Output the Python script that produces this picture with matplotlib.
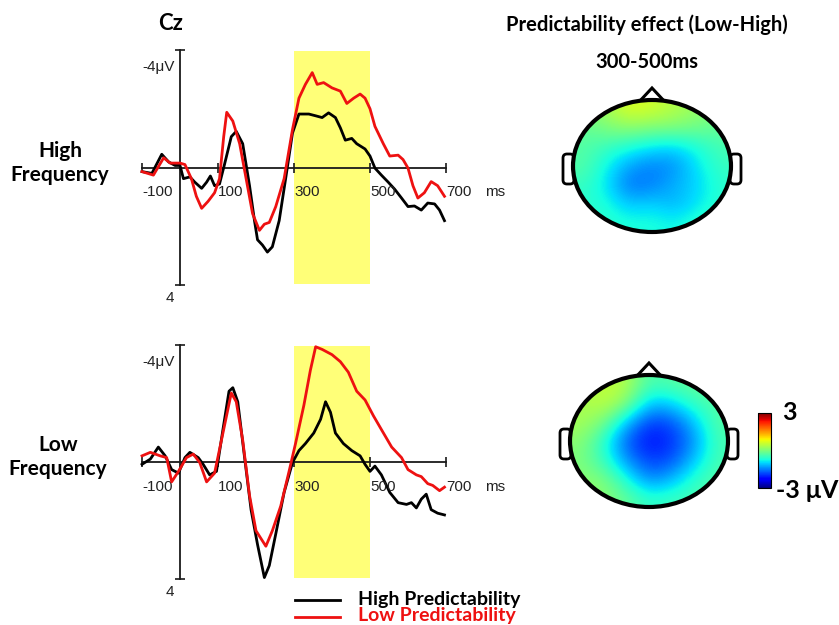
import numpy as np
import matplotlib
matplotlib.use("Agg")
import matplotlib.pyplot as plt
from matplotlib.patches import Ellipse, Polygon, FancyBboxPatch
from matplotlib import colors, cm

W, H = 839, 625

# ---------------- ERP waveforms at Cz (ms, microvolts) ----------------
hf_high_t = [-100, -74, -48, -30, -13, 0, 9, 26, 39, 57, 70, 80, 91, 104, 117, 135, 148, 165, 183, 196,
             204, 217, 230, 243, 261, 278, 296, 313, 339, 357, 374, 391, 409, 422, 435, 452, 465, 487,
             500, 513, 530, 548, 565, 583, 600, 617, 635, 652, 670, 683, 696]
hf_high_v = [0.14, 0.2, -0.45, -0.19, -0.07, -0.07, 0.38, 0.32, 0.5, 0.71, 0.5, 0.29, 0.62, 0.56, -0.1, -1.05,
             -1.23, -0.81, 0.62, 1.81, 2.46, 2.64, 2.88, 2.7, 1.81, 0.38, -1.17, -1.82, -1.82, -1.76, -1.7,
             -1.86, -1.7, -1.35, -0.93, -0.99, -0.81, -0.63, -0.39, 0.02, 0.26, 0.5, 0.74, 1.04, 1.33, 1.31,
             1.45, 1.21, 1.24, 1.45, 1.81]

hf_low_t = [-100, -70, -43, -26, 0, 13, 30, 43, 57, 74, 91, 104, 115, 123, 139, 157, 174, 191, 209, 222,
            235, 252, 274, 296, 313, 330, 348, 361, 378, 400, 422, 439, 457, 474, 487, 500, 513, 535,
            552, 574, 587, 600, 613, 626, 643, 661, 678, 696]
hf_low_v = [0.14, 0.26, -0.33, -0.15, -0.15, -0.1, 0.38, 0.98, 1.39, 1.15, 0.86, 0.38, -1.05, -1.88, -1.58,
            -0.81, 0.38, 1.57, 2.14, 1.93, 1.87, 1.33, 0.38, -1.29, -2.36, -2.83, -3.23, -2.83, -2.89, -2.71,
            -2.6, -2.18, -2.36, -2.5, -2.36, -2.0, -1.4, -0.81, -0.39, -0.42, -0.27, 0.02, 0.62, 1.04, 0.86,
            0.48, 0.62, 0.98]

lf_high_t = [-100, -78, -57, -39, -22, -4, 13, 26, 48, 61, 78, 96, 113, 129, 139, 152, 170, 187, 204, 222,
             235, 252, 274, 296, 313, 330, 352, 370, 383, 396, 409, 430, 452, 474, 487, 500, 513, 530,
             552, 574, 596, 609, 622, 635, 648, 661, 678, 696]
lf_high_v = [0.08, -0.1, -0.51, -0.21, 0.26, 0.38, -0.15, -0.33, -0.15, 0.08, 0.44, 0.32, -1.11, -2.42,
             -2.54, -2.06, -0.15, 1.63, 2.82, 3.95, 3.54, 2.46, 1.04, 0.02, -0.39, -0.63, -0.99, -1.46,
             -2.06, -1.7, -0.99, -0.63, -0.39, -0.21, 0.08, 0.32, 0.14, 0.44, 1.04, 1.39, 1.45, 1.39, 1.57,
             1.27, 1.1, 1.63, 1.75, 1.81]

lf_low_t = [-100, -78, -52, -35, -22, -4, 17, 35, 52, 70, 91, 113, 135, 148, 165, 183, 200, 226, 243, 265,
            287, 304, 326, 343, 357, 374, 400, 422, 443, 465, 487, 509, 530, 557, 583, 600, 622, 635,
            652, 665, 683, 696]
lf_low_v = [-0.21, -0.33, -0.21, -0.15, 0.68, 0.32, -0.15, -0.27, 0.02, 0.68, 0.38, -0.99, -2.36, -2.06,
            -0.75, 1.15, 2.35, 2.88, 2.35, 1.51, 0.32, -0.63, -1.94, -3.13, -3.94, -3.85, -3.67, -3.43,
            -3.07, -2.42, -2.12, -1.58, -1.11, -0.51, -0.15, 0.26, 0.44, 0.5, 0.74, 0.8, 0.98, 0.86]

x_ticks = [-100, 100, 300, 500, 700]
window = (300, 500)

# ---------------- topography, Low minus High, 300-500 ms (microvolts) ----------------
topo_hf = np.array([
    [0.0, 0.3, 0.7, 0.6, 0.4, 0.2, 0.0],
    [-0.2, 0.0, 0.1, 0.0, 0.0, -0.1, -0.2],
    [-0.3, -0.5, -0.7, -0.9, -1.0, -0.7, -0.4],
    [-0.3, -0.8, -1.3, -1.5, -1.4, -0.9, -0.5],
    [-0.5, -0.9, -1.6, -1.5, -1.2, -1.0, -0.6],
    [-0.6, -0.7, -1.1, -1.0, -1.2, -0.9, -0.6],
    [-0.5, -0.6, -0.7, -0.7, -0.8, -0.6, -0.5],
])
topo_lf = np.array([
    [0.3, 0.5, 0.4, -0.4, -0.3, -0.2, -0.2],
    [0.3, 0.5, 0.1, -1.1, -1.0, -0.5, -0.3],
    [0.3, 0.0, -1.1, -1.9, -1.8, -1.1, -0.3],
    [0.1, -0.6, -1.7, -2.2, -2.0, -1.4, -0.4],
    [0.0, -0.5, -1.4, -1.9, -1.8, -1.1, -0.4],
    [0.1, 0.0, -0.7, -1.5, -1.2, -0.6, -0.3],
    [0.2, 0.1, -0.2, -0.6, -0.5, -0.4, -0.3],
])
vmin, vmax = -3, 3

plt.rcParams['font.family'] = ['Liberation Sans', 'DejaVu Sans']
BOLD = ['Lato', 'Open Sans', 'DejaVu Sans']

fig = plt.figure(figsize=(W / 100, H / 100), dpi=100)


def px_axes(x0, y0, x1, y1):
    return fig.add_axes([x0 / W, 1 - y1 / H, (x1 - x0) / W, (y1 - y0) / H])


def erp_panel(ax, t_hi, v_hi, t_lo, v_lo):
    ax.set_xlim(-100, 700)
    ax.set_ylim(4, -4)
    ax.set_facecolor('none')
    ax.axvspan(window[0], window[1], ymin=0.005, ymax=0.995, color='#ffff78', zorder=0, lw=0)
    for s in ['top', 'right']:
        ax.spines[s].set_visible(False)
    ax.spines['left'].set_position(('data', 0))
    ax.spines['bottom'].set_position(('data', 0))
    for s in ['left', 'bottom']:
        ax.spines[s].set_linewidth(1.3)
        ax.spines[s].set_color('#1a1a1a')
    ax.set_xticks(x_ticks)
    ax.set_yticks([-4, 4])
    ax.set_xticklabels([])
    ax.set_yticklabels([])
    ax.tick_params(direction='inout', length=7, width=1.2, color='#1a1a1a')
    ax.plot(t_hi, v_hi, color='black', lw=2.0, zorder=3, clip_on=False, solid_joinstyle='round')
    ax.plot(t_lo, v_lo, color='#ee1111', lw=2.0, zorder=4, clip_on=False, solid_joinstyle='round')
    for t in x_ticks:
        ax.annotate(str(t), xy=(t, 0), xytext=(0, -18), textcoords='offset points',
                    ha='left', va='center', fontsize=11, color='#222222')
    ax.annotate('ms', xy=(700, 0), xytext=(35, -18), textcoords='offset points',
                ha='center', va='center', fontsize=11, color='#222222')
    ax.annotate('-4\u03bcV', xy=(0, -4), xytext=(-4, -12), textcoords='offset points',
                ha='right', va='center', fontsize=11, color='#222222')
    ax.annotate('4', xy=(0, 4), xytext=(-7, -9.5), textcoords='offset points',
                ha='center', va='center', fontsize=11, color='#222222')


ax1 = px_axes(142, 50, 446, 285)
erp_panel(ax1, hf_high_t, hf_high_v, hf_low_t, hf_low_v)
ax2 = px_axes(142, 345, 446, 579)
erp_panel(ax2, lf_high_t, lf_high_v, lf_low_t, lf_low_v)

cmap = plt.get_cmap('jet')
norm = colors.Normalize(vmin, vmax)


def topo_panel(cx, cy, values):
    # axes in pixel units, centred on the head
    ax = px_axes(cx - 100, cy - 90, cx + 100, cy + 90)
    ax.set_xlim(-100, 100)
    ax.set_ylim(-90, 90)
    ax.axis('off')
    rx, ry = 79, 66
    nose = Polygon([(-14, ry - 3), (0, ry + 12), (14, ry - 3)], closed=True,
                   fc='white', ec='black', lw=2.2, zorder=1)
    ax.add_patch(nose)
    for side in (-1, 1):
        x0 = -rx - 10 if side < 0 else rx - 1
        ear = FancyBboxPatch((x0, -18), 11, 30, boxstyle='round,pad=0,rounding_size=4',
                             fc='white', ec='black', lw=2.0, zorder=1)
        ax.add_patch(ear)
    im = ax.imshow(values, cmap=cmap, norm=norm, interpolation='bicubic',
                   extent=(-rx, rx, -ry, ry), origin='upper', zorder=2, aspect='auto')
    im.set_clip_path(Ellipse((0, 0), 2 * rx, 2 * ry, transform=ax.transData))
    ax.add_patch(Ellipse((0, 0), 2 * rx, 2 * ry, fc='white', ec='none', zorder=1.5))
    ax.add_patch(Ellipse((0, 0), 2 * rx, 2 * ry, fc='none', ec='black', lw=3.0, zorder=4))
    return ax


topo_panel(652, 166, topo_hf)
topo_panel(649, 441, topo_lf)

cax = px_axes(758, 413, 771, 488)
cb = fig.colorbar(cm.ScalarMappable(norm=norm, cmap=cmap), cax=cax)
cb.set_ticks([])
cb.outline.set_linewidth(0.8)

# titles and labels
fig.text(171 / W, 1 - 24 / H, 'Cz', ha='center', va='center', fontsize=16, fontweight='bold', family=BOLD)
fig.text(647 / W, 1 - 25 / H, 'Predictability effect (Low-High)', ha='center', va='center',
         fontsize=14.5, fontweight='bold', family=BOLD)
fig.text(647 / W, 1 - 62 / H, '300-500ms', ha='center', va='center', fontsize=14.5,
         fontweight='bold', family=BOLD)
fig.text(60 / W, 1 - 163 / H, 'High\nFrequency', ha='center', va='center', fontsize=15,
         fontweight='bold', family=BOLD, linespacing=1.2)
fig.text(58 / W, 1 - 457 / H, 'Low\nFrequency', ha='center', va='center', fontsize=15,
         fontweight='bold', family=BOLD, linespacing=1.2)
fig.text(789 / W, 1 - 413 / H, '3', ha='center', va='center', fontsize=18, fontweight='bold', family=BOLD)
fig.text(776 / W, 1 - 490 / H, '-3 \u03bcV', ha='left', va='center', fontsize=18, fontweight='bold', family=BOLD)

# legend
lax = px_axes(0, 0, W, H)
lax.set_xlim(0, W)
lax.set_ylim(H, 0)
lax.axis('off')
lax.plot([295, 340], [600, 600], color='black', lw=2)
lax.plot([295, 340], [617, 617], color='#ee1111', lw=2)
lax.text(358, 599, 'High Predictability', ha='left', va='center', fontsize=14,
         fontweight='bold', family=BOLD, color='black')
lax.text(358, 616, 'Low Predictability', ha='left', va='center', fontsize=14,
         fontweight='bold', family=BOLD, color='#ee1111')

fig.savefig('out.png', dpi=100)
